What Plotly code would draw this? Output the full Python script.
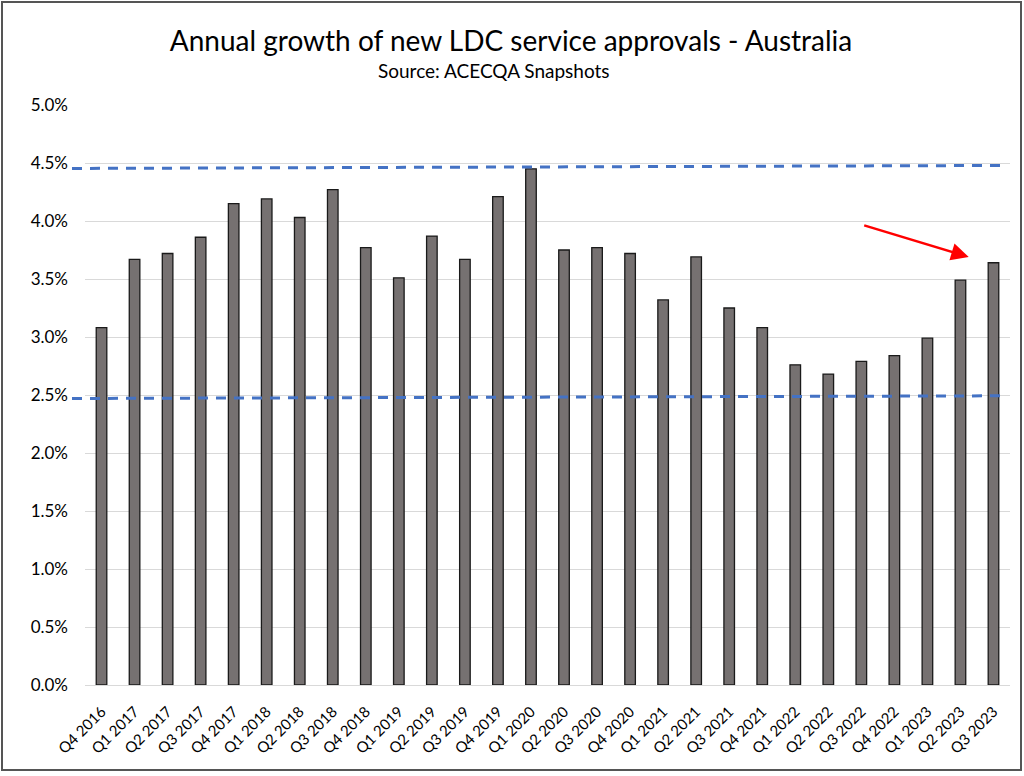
import plotly.graph_objects as go

quarters = [
    "Q4 2016", "Q1 2017", "Q2 2017", "Q3 2017", "Q4 2017", "Q1 2018", "Q2 2018",
    "Q3 2018", "Q4 2018", "Q1 2019", "Q2 2019", "Q3 2019", "Q4 2019", "Q1 2020",
    "Q2 2020", "Q3 2020", "Q4 2020", "Q1 2021", "Q2 2021", "Q3 2021", "Q4 2021",
    "Q1 2022", "Q2 2022", "Q3 2022", "Q4 2022", "Q1 2023", "Q2 2023", "Q3 2023",
]
growth_pct = [
    3.08, 3.67, 3.72, 3.86, 4.15, 4.19, 4.03,
    4.27, 3.77, 3.51, 3.87, 3.67, 4.21, 4.45,
    3.75, 3.77, 3.72, 3.32, 3.69, 3.25, 3.08,
    2.76, 2.68, 2.79, 2.84, 2.99, 3.49, 3.64,
]
# dashed reference lines (start value, end value), in %
upper_band = [4.453, 4.479]
lower_band = [2.470, 2.493]
y_ticks = [0.0, 0.5, 1.0, 1.5, 2.0, 2.5, 3.0, 3.5, 4.0, 4.5, 5.0]
y_tick_labels = [f"{v:.1f}%" for v in y_ticks]

title_text = "Annual growth of new LDC service approvals - Australia"
subtitle_text = "Source: ACECQA Snapshots"

FONT = "Lato, Carlito, Calibri, sans-serif"

fig = go.Figure()
fig.add_trace(go.Bar(
    x=quarters, y=growth_pct, width=0.32,
    marker=dict(color="#767171", line=dict(color="#1a1a1a", width=1.3)),
    showlegend=False, hoverinfo="x+y",
))

# plot area pixel geometry
W, H = 1024, 776
L, R, T, B = 85, 14, 105, 91
pw, ph = W - L - R, H - T - B

def px_x(p):
    return (p - L) / pw

def px_y(p):
    return (H - B - p) / ph

shapes = []
for band in (upper_band, lower_band):
    shapes.append(dict(
        type="line", xref="paper", yref="y",
        x0=px_x(72), x1=px_x(1004), y0=band[0], y1=band[1],
        line=dict(color="#4472C4", width=3, dash="10px,8px"), layer="above",
    ))
# outer frame
shapes.append(dict(
    type="rect", xref="paper", yref="paper",
    x0=px_x(2), x1=px_x(1021), y0=px_y(770), y1=px_y(2),
    line=dict(color="#555555", width=2), fillcolor="rgba(0,0,0,0)",
))

fig.update_layout(
    width=W, height=H,
    margin=dict(l=L, r=R, t=T, b=B),
    paper_bgcolor="white", plot_bgcolor="white",
    font=dict(family=FONT, color="#000000"),
    title=dict(text=title_text, x=px_x(511), xanchor="center", xref="paper",
               y=1 - 41 / H, yanchor="middle", yref="container",
               font=dict(size=28, family=FONT, color="#000000")),
    bargap=0.68,
    shapes=shapes,
    annotations=[
        dict(text=subtitle_text, xref="paper", yref="paper", x=px_x(493.5), y=px_y(70),
             showarrow=False, font=dict(size=19, family=FONT, color="#000000"),
             xanchor="center", yanchor="middle"),
        dict(x=26.25, y=3.69, xref="x", yref="y", ax=-106, ay=-32,
             showarrow=True, arrowhead=2, arrowsize=1.4, arrowwidth=2.5,
             arrowcolor="#FF0000", text=""),
    ],
    xaxis=dict(
        type="category", tickangle=-45, showgrid=False, showline=False,
        ticks="", tickfont=dict(size=15, family=FONT, color="#000000"),
        ticklabelstandoff=14, range=[-0.5, len(quarters) - 0.5],
    ),
    yaxis=dict(
        range=[0, 5], tickvals=y_ticks, ticktext=y_tick_labels,
        showgrid=True, gridcolor="#d9d9d9", gridwidth=1.3,
        zeroline=True, zerolinecolor="#d9d9d9", zerolinewidth=1.3,
        showline=False, ticks="", ticklabelstandoff=16,
        tickfont=dict(size=17, family=FONT, color="#000000"),
    ),
)

fig.write_html(
    "out.html",
    config={"displayModeBar": False},
    post_script="document.body.style.margin='0';document.body.style.overflow='hidden';",
)
